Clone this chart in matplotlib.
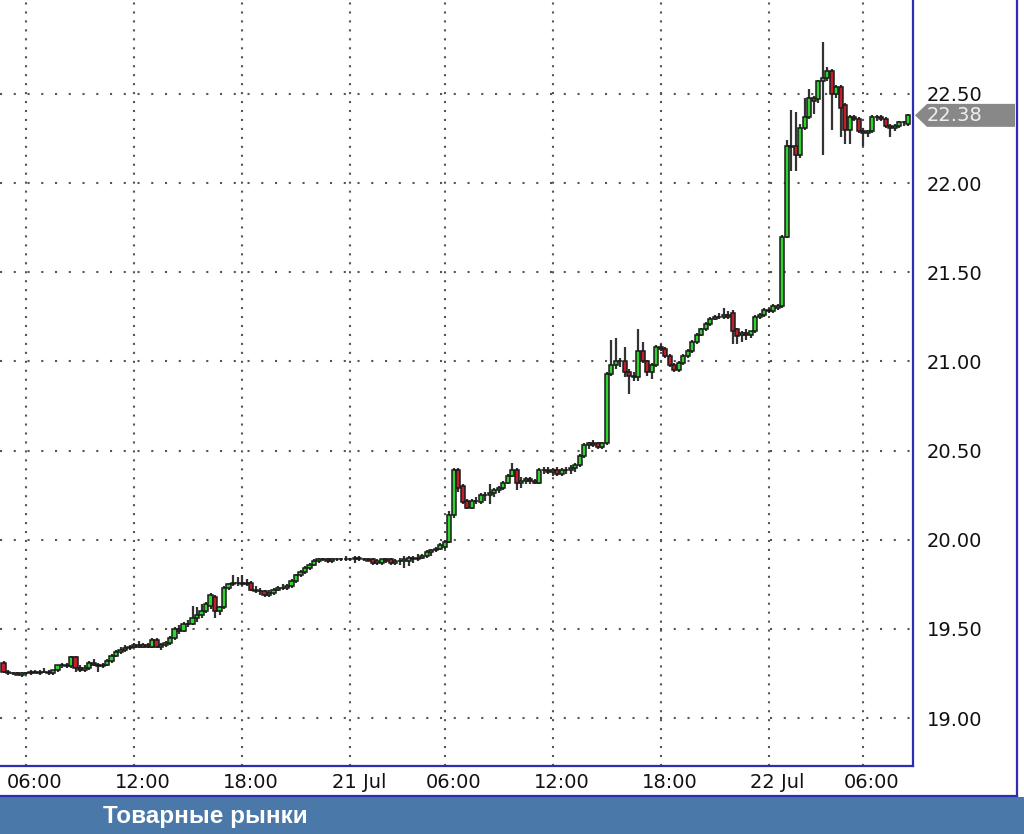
import matplotlib
matplotlib.use("Agg")
import matplotlib.pyplot as plt
import numpy as np
from matplotlib.patches import Polygon, Rectangle
from matplotlib.lines import Line2D
from matplotlib.transforms import ScaledTranslation, IdentityTransform

# 15-minute bars, 20 Jul 04:45 .. 22 Jul ~08:30
opens = [
    19.31, 19.26, 19.25, 19.25, 19.24, 19.25, 19.25, 19.26, 19.25, 19.26,
    19.26, 19.25, 19.27, 19.30, 19.30, 19.29, 19.34, 19.28, 19.27, 19.28,
    19.31, 19.30, 19.29, 19.30, 19.32, 19.35, 19.37, 19.38, 19.39, 19.40,
    19.41, 19.40, 19.41, 19.40, 19.44, 19.40, 19.41, 19.42, 19.45, 19.50,
    19.49, 19.53, 19.53, 19.56, 19.58, 19.60, 19.63, 19.68, 19.60, 19.62,
    19.73, 19.75, 19.76, 19.76, 19.75, 19.76, 19.72, 19.71, 19.71, 19.69,
    19.70, 19.72, 19.73, 19.73, 19.74, 19.77, 19.80, 19.82, 19.84, 19.86,
    19.88, 19.89, 19.89, 19.88, 19.89, 19.89, 19.89, 19.89, 19.89, 19.90,
    19.89, 19.89, 19.89, 19.87, 19.87, 19.89, 19.89, 19.87, 19.88, 19.88,
    19.88, 19.90, 19.89, 19.90, 19.91, 19.93, 19.94, 19.95, 19.96, 19.99,
    20.14, 20.39, 20.30, 20.22, 20.18, 20.22, 20.21, 20.25, 20.25, 20.26,
    20.28, 20.29, 20.32, 20.36, 20.39, 20.32, 20.33, 20.34, 20.33, 20.32,
    20.39, 20.39, 20.38, 20.39, 20.37, 20.39, 20.39, 20.40, 20.42, 20.47,
    20.53, 20.54, 20.54, 20.52, 20.54, 20.93, 20.98, 21.00, 21.00, 20.94,
    20.92, 20.91, 21.06, 21.00, 20.94, 20.98, 21.08, 21.07, 21.03, 20.98,
    20.95, 20.99, 21.03, 21.06, 21.11, 21.15, 21.18, 21.21, 21.24, 21.25,
    21.25, 21.26, 21.27, 21.18, 21.15, 21.16, 21.15, 21.17, 21.25, 21.26,
    21.29, 21.28, 21.30, 21.31, 21.70, 22.21, 22.21, 22.16, 22.31, 22.37,
    22.48, 22.47, 22.57, 22.59, 22.63, 22.50, 22.54, 22.44, 22.30, 22.37,
    22.36, 22.29, 22.28, 22.29, 22.37, 22.37, 22.36, 22.32, 22.31, 22.32,
    22.34, 22.33,
]
highs = [
    19.32, 19.27, 19.26, 19.26, 19.26, 19.26, 19.27, 19.27, 19.27, 19.28,
    19.27, 19.27, 19.30, 19.31, 19.31, 19.35, 19.35, 19.30, 19.30, 19.32,
    19.33, 19.31, 19.31, 19.33, 19.36, 19.38, 19.40, 19.41, 19.41, 19.42,
    19.43, 19.42, 19.42, 19.45, 19.45, 19.42, 19.43, 19.46, 19.51, 19.52,
    19.54, 19.55, 19.63, 19.62, 19.64, 19.65, 19.70, 19.69, 19.63, 19.74,
    19.76, 19.80, 19.79, 19.80, 19.78, 19.77, 19.74, 19.73, 19.72, 19.72,
    19.73, 19.74, 19.75, 19.75, 19.78, 19.81, 19.83, 19.85, 19.87, 19.89,
    19.90, 19.90, 19.90, 19.90, 19.90, 19.90, 19.91, 19.90, 19.91, 19.91,
    19.90, 19.90, 19.90, 19.89, 19.89, 19.90, 19.90, 19.89, 19.90, 19.91,
    19.91, 19.91, 19.92, 19.92, 19.94, 19.95, 19.96, 19.98, 20.00, 20.16,
    20.40, 20.40, 20.31, 20.23, 20.23, 20.24, 20.26, 20.27, 20.31, 20.29,
    20.30, 20.33, 20.37, 20.43, 20.40, 20.35, 20.35, 20.35, 20.34, 20.40,
    20.41, 20.41, 20.40, 20.41, 20.40, 20.41, 20.42, 20.43, 20.48, 20.54,
    20.55, 20.56, 20.55, 20.55, 20.94, 21.12, 21.13, 21.02, 21.08, 20.96,
    20.94, 21.18, 21.11, 21.01, 20.99, 21.09, 21.10, 21.08, 21.04, 20.99,
    21.00, 21.04, 21.07, 21.12, 21.16, 21.19, 21.22, 21.25, 21.26, 21.27,
    21.30, 21.28, 21.29, 21.19, 21.17, 21.18, 21.17, 21.26, 21.27, 21.30,
    21.30, 21.32, 21.32, 21.71, 22.24, 22.41, 22.40, 22.33, 22.48, 22.53,
    22.49, 22.58, 22.79, 22.65, 22.64, 22.55, 22.55, 22.45, 22.38, 22.38,
    22.37, 22.31, 22.30, 22.38, 22.38, 22.38, 22.37, 22.33, 22.33, 22.35,
    22.35, 22.39,
]
lows = [
    19.25, 19.24, 19.24, 19.24, 19.23, 19.24, 19.24, 19.25, 19.24, 19.25,
    19.24, 19.24, 19.26, 19.28, 19.28, 19.28, 19.26, 19.26, 19.26, 19.27,
    19.29, 19.26, 19.28, 19.29, 19.31, 19.34, 19.36, 19.37, 19.38, 19.39,
    19.39, 19.39, 19.39, 19.39, 19.39, 19.38, 19.40, 19.41, 19.44, 19.47,
    19.48, 19.51, 19.52, 19.54, 19.56, 19.59, 19.61, 19.56, 19.58, 19.61,
    19.72, 19.74, 19.74, 19.74, 19.74, 19.71, 19.70, 19.69, 19.68, 19.68,
    19.69, 19.71, 19.72, 19.72, 19.73, 19.76, 19.79, 19.81, 19.83, 19.85,
    19.87, 19.88, 19.87, 19.87, 19.88, 19.88, 19.88, 19.88, 19.87, 19.88,
    19.88, 19.88, 19.86, 19.86, 19.86, 19.87, 19.86, 19.86, 19.86, 19.84,
    19.85, 19.87, 19.88, 19.89, 19.90, 19.91, 19.93, 19.94, 19.95, 19.98,
    20.12, 20.27, 20.20, 20.17, 20.17, 20.20, 20.20, 20.22, 20.20, 20.24,
    20.26, 20.28, 20.31, 20.35, 20.28, 20.29, 20.31, 20.31, 20.31, 20.31,
    20.37, 20.37, 20.36, 20.36, 20.36, 20.37, 20.37, 20.38, 20.41, 20.46,
    20.51, 20.52, 20.51, 20.51, 20.53, 20.92, 20.96, 20.97, 20.91, 20.82,
    20.89, 20.89, 20.99, 20.92, 20.90, 20.97, 21.06, 21.02, 20.97, 20.94,
    20.94, 20.98, 21.02, 21.05, 21.10, 21.14, 21.17, 21.20, 21.23, 21.24,
    21.24, 21.24, 21.10, 21.10, 21.11, 21.12, 21.13, 21.16, 21.24, 21.25,
    21.27, 21.27, 21.29, 21.30, 21.69, 22.07, 22.07, 22.14, 22.30, 22.36,
    22.39, 22.45, 22.16, 22.57, 22.30, 22.48, 22.26, 22.22, 22.22, 22.35,
    22.28, 22.21, 22.26, 22.28, 22.35, 22.35, 22.31, 22.26, 22.29, 22.31,
    22.32, 22.32,
]
closes = [
    19.26, 19.25, 19.25, 19.24, 19.25, 19.25, 19.26, 19.25, 19.26, 19.26,
    19.25, 19.27, 19.30, 19.30, 19.29, 19.34, 19.28, 19.27, 19.28, 19.31,
    19.30, 19.29, 19.30, 19.32, 19.35, 19.37, 19.38, 19.39, 19.40, 19.41,
    19.40, 19.41, 19.40, 19.44, 19.40, 19.41, 19.42, 19.45, 19.50, 19.49,
    19.53, 19.53, 19.56, 19.58, 19.60, 19.64, 19.69, 19.60, 19.62, 19.73,
    19.75, 19.76, 19.76, 19.75, 19.76, 19.72, 19.71, 19.71, 19.69, 19.70,
    19.72, 19.73, 19.73, 19.74, 19.77, 19.80, 19.82, 19.84, 19.86, 19.88,
    19.89, 19.89, 19.88, 19.89, 19.89, 19.89, 19.89, 19.89, 19.90, 19.89,
    19.89, 19.88, 19.87, 19.88, 19.89, 19.88, 19.87, 19.88, 19.88, 19.89,
    19.90, 19.89, 19.90, 19.91, 19.93, 19.94, 19.95, 19.97, 19.99, 20.14,
    20.39, 20.29, 20.21, 20.18, 20.22, 20.22, 20.25, 20.25, 20.26, 20.28,
    20.29, 20.32, 20.36, 20.39, 20.32, 20.33, 20.34, 20.33, 20.32, 20.39,
    20.39, 20.38, 20.39, 20.37, 20.39, 20.39, 20.40, 20.42, 20.47, 20.53,
    20.54, 20.53, 20.52, 20.54, 20.93, 20.98, 21.00, 21.00, 20.94, 20.92,
    20.91, 21.06, 21.00, 20.94, 20.98, 21.08, 21.07, 21.03, 20.98, 20.95,
    20.99, 21.03, 21.06, 21.11, 21.15, 21.18, 21.21, 21.24, 21.25, 21.25,
    21.26, 21.25, 21.17, 21.14, 21.16, 21.15, 21.17, 21.25, 21.26, 21.29,
    21.28, 21.31, 21.31, 21.70, 22.21, 22.20, 22.16, 22.31, 22.37, 22.48,
    22.46, 22.57, 22.59, 22.63, 22.50, 22.54, 22.42, 22.30, 22.37, 22.36,
    22.29, 22.28, 22.29, 22.37, 22.37, 22.36, 22.32, 22.31, 22.32, 22.34,
    22.34, 22.38,
]

# bar numbers where the time grid falls (trading pause at night)
tick_bars = [5, 29, 53, 77, 98, 122, 146, 170, 191]
tick_labels = ["06:00", "12:00", "18:00", "21 Jul", "06:00",
               "12:00", "18:00", "22 Jul", "06:00"]
price_ticks = [19.0, 19.5, 20.0, 20.5, 21.0, 21.5, 22.0, 22.5]

BLUE = "#2d2db4"

o = np.array(opens)
h = np.array(highs)
l = np.array(lows)
c = np.array(closes)
x = np.arange(len(c))
up = c >= o

fig = plt.figure(figsize=(10.24, 8.34), dpi=100)
ax = fig.add_axes([0, 68 / 834, 913 / 1024, 766 / 834])

ax.vlines(x, l, h, color="#333333", lw=1.6, zorder=2)
ax.bar(x, np.abs(c - o), bottom=np.minimum(o, c), width=0.9,
       color=np.where(up, "#2ed52e", "#c0202a"), edgecolor="#1a1a1a",
       linewidth=1.1, zorder=3)

ax.set_xlim(-0.78, 202.1)
ax.set_ylim(18.731, 23.027)

ax.set_xticks(tick_bars)
ax.set_xticklabels(tick_labels)
ax.set_yticks(price_ticks)
ax.set_yticklabels([f"{v:.2f}" for v in price_ticks])
ax.yaxis.tick_right()
ax.tick_params(axis="y", length=0, pad=10, labelsize=14, labelcolor="#111111")
ax.tick_params(axis="x", length=0, pad=5, labelsize=14, labelcolor="#111111")
shift = ScaledTranslation(0.09, 0, fig.dpi_scale_trans)
for lab in ax.get_xticklabels():
    lab.set_transform(lab.get_transform() + shift)

ax.xaxis.grid(True, color="#555555", lw=1.5, dashes=(1, 3.3))
ax.yaxis.grid(True, color="#555555", lw=1.5, dashes=(1, 5.6))
ax.set_axisbelow(True)

for side in ["left", "top"]:
    ax.spines[side].set_visible(False)
for side in ["right", "bottom"]:
    ax.spines[side].set_color(BLUE)
    ax.spines[side].set_linewidth(1.6)

# outer frame and banner
fig.add_artist(Line2D([1017 / 1024, 1017 / 1024], [38 / 834, 1], color=BLUE, lw=1.6))
fig.add_artist(Line2D([0, 1017 / 1024], [38 / 834, 38 / 834], color=BLUE, lw=1.6))
fig.add_artist(Rectangle((0, 0), 1, 37 / 834, color="#4a78a8", lw=0))
fig.text(103 / 1024, 18 / 834, "Товарные рынки", color="white", fontsize=17.5,
         fontweight="bold", family=["Liberation Sans", "DejaVu Sans"], va="center")

# last price tag
yp = ax.transData.transform((0, closes[-1]))[1]
tag = Polygon([[915, yp], [927, yp + 11.5], [1015, yp + 11.5],
               [1015, yp - 11.5], [927, yp - 11.5]],
              closed=True, facecolor="#888888", edgecolor="none",
              transform=IdentityTransform())
fig.add_artist(tag)
fig.text(927, yp, f"{closes[-1]:.2f}", color="#eeeeee", fontsize=14,
         va="center", ha="left", transform=IdentityTransform())

fig.savefig("out.png", dpi=100)
